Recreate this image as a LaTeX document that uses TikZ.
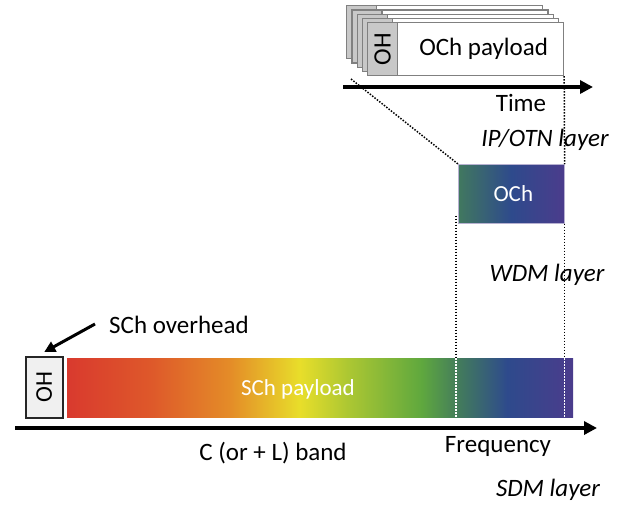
\documentclass[tikz,border=0pt]{standalone}
\usepackage{fontspec}
\setmainfont{Carlito}
\usetikzlibrary{arrows.meta,calc}
\definecolor{c0}{RGB}{217,58,46}
\definecolor{c1}{RGB}{222,88,42}
\definecolor{c2}{RGB}{228,140,40}
\definecolor{c3}{RGB}{232,222,42}
\definecolor{c4}{RGB}{175,200,50}
\definecolor{c5}{RGB}{95,168,62}
\definecolor{c6}{RGB}{65,120,95}
\definecolor{c7}{RGB}{46,74,140}
\definecolor{c8}{RGB}{75,60,140}
\definecolor{framegray}{RGB}{128,128,128}
\definecolor{ohgray}{RGB}{200,200,200}
\definecolor{ohlight}{RGB}{240,240,240}
\pgfdeclarehorizontalshading{schgrad}{100bp}{color(0bp)=(c0); color(25bp)=(c0); color(33.2bp)=(c1); color(41.1bp)=(c2); color(48bp)=(c3); color(52.5bp)=(c4); color(60bp)=(c5); color(64bp)=(c6); color(68.5bp)=(c7); color(75bp)=(c8); color(100bp)=(c8)}
\pgfdeclarehorizontalshading{ochgrad}{100bp}{color(0bp)=(c6); color(25bp)=(c6); color(50bp)=(c7); color(75bp)=(c8); color(100bp)=(c8)}
\begin{document}
\begin{tikzpicture}[x=1pt,y=-1pt,
  lbl/.style={font=\fontsize{25}{30}\selectfont, inner sep=0pt},
  ilbl/.style={inner sep=0pt, font=\fontsize{25}{30}\selectfont\itshape},
  ohpart/.style={draw=framegray, line width=1.2pt, fill=ohgray, minimum width=30pt, minimum height=53pt, anchor=north west, inner sep=0pt},
  plpart/.style={draw=framegray, line width=1.2pt, fill=white, minimum width=166pt, minimum height=53pt, anchor=north west, inner sep=0pt},
  axisarrow/.style={line width=4pt, -{Triangle[length=13pt,width=13pt]}},
  dots/.style={line width=1.5pt, dash pattern=on 1.5pt off 1.5pt},
]
\useasboundingbox (0,0) rectangle (626,504);

% stacked OCh frames
\foreach \k in {4,3,2,1}{
  \node[ohpart] (oh\k) at ({367-5.2*\k},{22-4.2*\k}) {};
  \node[plpart] (pl\k) at ({397-5.2*\k},{22-4.2*\k}) {};
}
\node[ohpart] (ohf) at (367,22) {};
\node[plpart, font=\fontsize{25}{30}\selectfont] (plf) at (397,22) {\hspace*{6pt}OCh payload};
\node[lbl, rotate=90] (ohftext) at (ohf.center) {OH};

% OCh block
\node[anchor=north west, minimum width=106pt, minimum height=59pt, inner sep=0pt,
      shading=ochgrad, draw=c8!40!white, line width=0.6pt, text=white,
      font=\fontsize{23}{27}\selectfont] (och) at (458,164) {\hspace*{4pt}OCh};

% SCh bar
\node[anchor=north west, minimum width=506pt, minimum height=59pt, inner sep=0pt,
      shading=schgrad] (sch) at (67,358) {};
\node[inner sep=0pt, text=white, font=\fontsize{23}{28}\selectfont] (schtext) at (298,389) {SCh payload};

% SCh overhead box
\node[anchor=north west, draw=black!85, line width=1.5pt, fill=ohlight,
      minimum width=37pt, minimum height=61pt, inner sep=0pt] (ohbot) at (25,356) {};
\node[inner sep=0pt, rotate=90, font=\fontsize{24}{28}\selectfont] (ohbottext) at (ohbot.center) {OH};

% dotted guides
\coordinate (tstart) at (351,79);
\draw[dots] (tstart) -- (och.north west);
\draw[dots] (plf.south east) -- (och.north east);
\draw[dots] (och.south east) -- (och.south east |- sch.north);
\draw[dots, white] (och.south east |- sch.north) -- (och.south east |- sch.south);
\coordinate (lt) at ($(och.south west)+(-2,-8)$);
\draw[dots] (lt) -- (lt |- sch.north);
\draw[dots, white] (lt |- sch.north) -- (lt |- sch.south);

% axes
\coordinate (t0) at (343,87);
\coordinate (t1) at (593,87);
\draw[axisarrow] (t0) -- (t1);
\coordinate (f0) at (15,428);
\coordinate (f1) at (597,428);
\draw[axisarrow] (f0) -- (f1);

% labels
\node[lbl] (timelbl) at (521,103) {Time};
\node[ilbl] (iplbl) at (545,140) {IP/OTN layer};
\node[ilbl] (wdmlbl) at (547,275) {WDM layer};
\node[ilbl] (sdmlbl) at (548,490) {SDM layer};
\node[lbl] (freqlbl) at (498,446) {Frequency};
\node[lbl] (bandlbl) at (273,453) {C (or + L) band};
\node[lbl, anchor=west] (sohlbl) at (109,325) {SCh overhead};

% overhead arrow
\draw[line width=3pt, -{Triangle[length=11pt,width=11pt]}] ($(sohlbl.west)+(-14,-1)$) -- ($(ohbot.north)+(0,-4)$);
\end{tikzpicture}
\end{document}
